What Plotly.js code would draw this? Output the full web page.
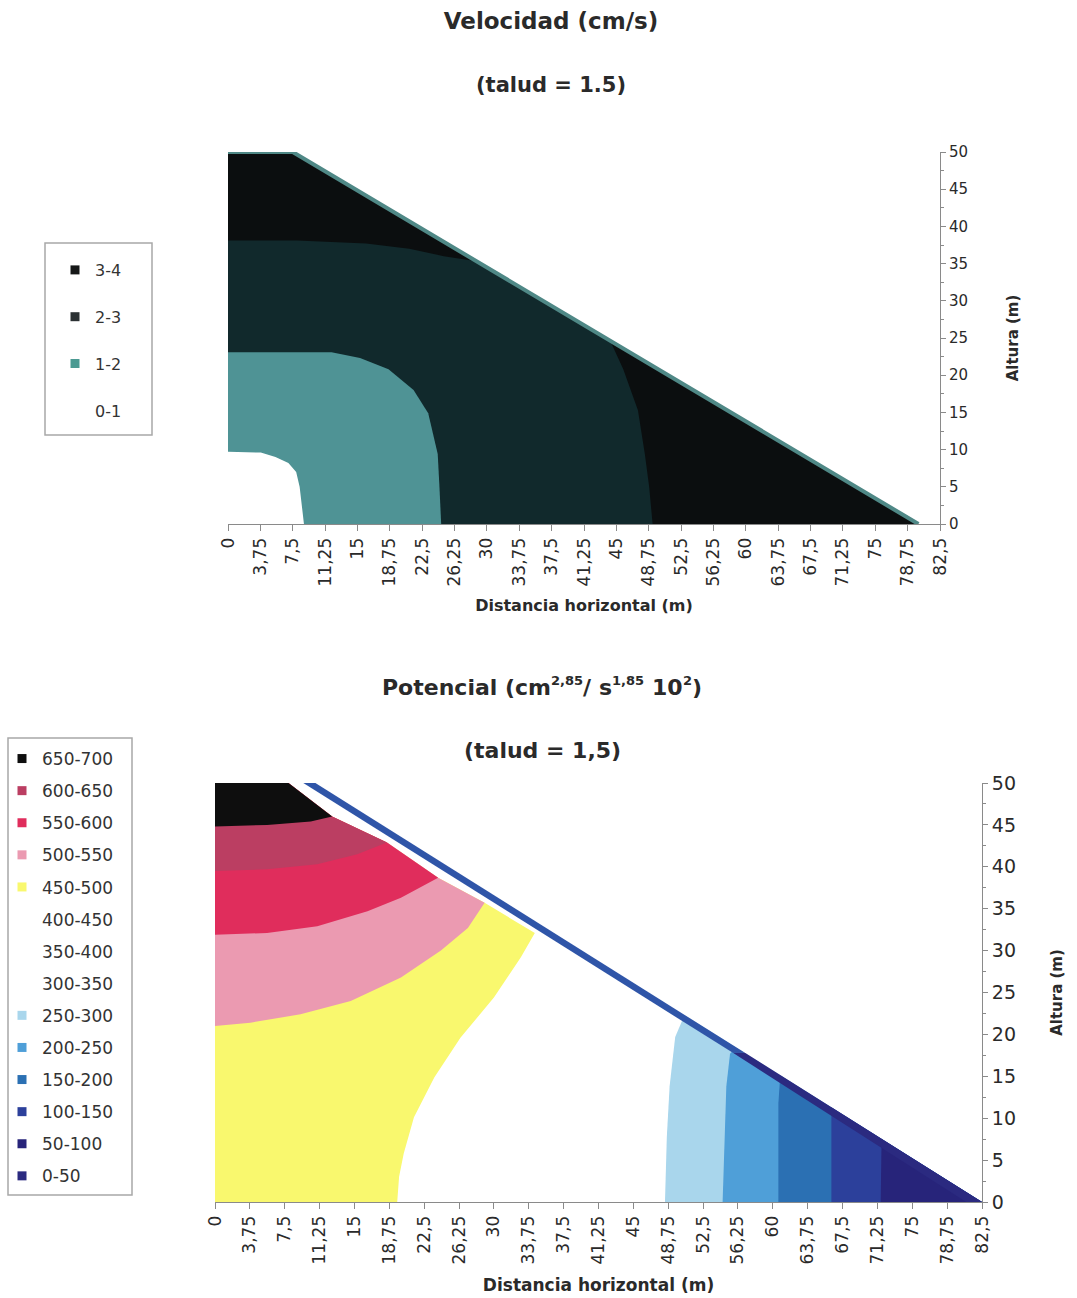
<!DOCTYPE html>
<html>
<head>
<meta charset="utf-8">
<script src="https://cdn.plot.ly/plotly-3.0.1.min.js"></script>
<style>
  html, body { margin: 0; padding: 0; background: #ffffff; }
  #chart { width: 1077px; height: 1298px; }
</style>
</head>
<body>
<div id="chart"></div>
<script>
// Shared horizontal ticks (metres) and their labels
const xTickVals = [0, 3.75, 7.5, 11.25, 15, 18.75, 22.5, 26.25, 30, 33.75, 37.5, 41.25, 45,
                   48.75, 52.5, 56.25, 60, 63.75, 67.5, 71.25, 75, 78.75, 82.5];
const xTickText = ['0', '3,75', '7,5', '11,25', '15', '18,75', '22,5', '26,25', '30', '33,75',
                   '37,5', '41,25', '45', '48,75', '52,5', '56,25', '60', '63,75', '67,5',
                   '71,25', '75', '78,75', '82,5'];
const yTickVals = [0, 5, 10, 15, 20, 25, 30, 35, 40, 45, 50];

// ---------- Velocidad (cm/s), talud = 1.5 ----------
const velLabels = ['3-4', '2-3', '1-2', '0-1'];
const velColors = ['#0b0e0f', '#11292c', '#4f9395', '#ffffff'];
const velLegendColors = ['#151818', '#2b3133', '#4b9a92', '#ffffff'];
// dam section outline (crest + downstream face)
const velSectionX = [0, 80, 7.5, 0];
const velSectionY = [0, 0, 50, 50];
const velFaceX = [0, 7.5, 80];
const velFaceY = [50, 50, 0];
// zone 2-3 (its outer contour runs along the face)
const vel23X = [0, 49.2, 48.8, 48.3, 47.5, 45.8, 44.3, 28.8, 25, 21, 16, 8, 0];
const vel23Y = [0, 0, 5, 9.4, 15.3, 20.8, 24.6, 35.3, 36.0, 37.0, 37.7, 38.1, 38.1];
// zone 1-2
const vel12X = [0, 24.7, 24.5, 24.3, 23.2, 21.5, 18.6, 15.3, 12, 0];
const vel12Y = [0, 0, 5, 9.4, 14.9, 18.0, 20.8, 22.3, 23.1, 23.1];
// zone 0-1
const vel01X = [0, 8.8, 8.6, 8.3, 7.9, 7.0, 5.5, 3.8, 0];
const vel01Y = [0, 0, 2, 5, 7, 8.2, 9.0, 9.6, 9.7];

// ---------- Potencial, talud = 1,5 ----------
const potLabels = ['650-700', '600-650', '550-600', '500-550', '450-500', '400-450', '350-400',
                   '300-350', '250-300', '200-250', '150-200', '100-150', '50-100', '0-50'];
const potColors = ['#0e0e0e', '#bb3e62', '#e02d5c', '#eb9ab1', '#f9f86e', '#ffffff', '#ffffff',
                   '#ffffff', '#a9d6ec', '#4f9fd8', '#2b70b3', '#2c409b', '#27247a', '#2b2a80'];
// inner face of the upstream zones (bottom to top)
const potFaceX = [34.4, 29.0, 24.0, 18.5, 12.6, 7.9];
const potFaceY = [32.1, 35.7, 38.7, 42.9, 46.0, 50];
// lower contour of each upstream zone, from the left edge to the face
const pot650X = [0, 5.6, 10.3, 12.6];
const pot650Y = [44.8, 45.0, 45.4, 46.0];
const pot600X = [0, 5.6, 11.0, 15.3, 18.5];
const pot600Y = [39.5, 39.7, 40.3, 41.5, 42.9];
const pot550X = [0, 5.6, 11.0, 16.4, 20.0, 24.0];
const pot550Y = [31.9, 32.1, 32.9, 34.7, 36.3, 38.7];
const pot500X = [0, 3.8, 9.2, 14.6, 20.0, 24.3, 27.2, 29.0];
const pot500Y = [21.0, 21.4, 22.4, 24.0, 26.8, 30.0, 32.7, 35.7];
const pot450X = [0, 19.6, 19.8, 20.3, 21.4, 23.6, 26.4, 30.0, 32.9, 34.4];
const pot450Y = [0, 0, 3.0, 5.8, 10.1, 14.9, 19.6, 24.4, 29.2, 32.1];
// left contour of each downstream zone (it closes at the toe, 82.5 m)
const pot250X = [48.4, 48.6, 48.9, 49.5, 50.5];
const pot250Y = [0, 7.8, 13.8, 19.7, 22.3];
const pot200X = [54.6, 55.0, 55.4, 56.0];
const pot200Y = [0, 13.8, 17.7, 18.4];
const pot150X = [60.6, 60.6, 60.8];
const pot150Y = [0, 11.8, 15.1];
const pot100X = [66.3, 66.3];
const pot100Y = [0, 11.3];
const pot50X = [71.6, 71.7];
const pot50Y = [0, 7.5];
// thin band along the downstream face
const potStripUpperX = [10.8, 57.0, 55.7, 9.5];
const potStripUpperY = [50, 17.8, 17.8, 50];
const potStripLowerX = [57.0, 82.5, 80.8, 55.7];
const potStripLowerY = [17.8, 0, 0, 17.8];
const potToe = [82.5, 0];

// ---------- helpers ----------
function zone(xs, ys, color, xa, ya) {
  return {
    type: 'scatter', mode: 'lines', x: xs, y: ys, fill: 'toself',
    fillcolor: color, line: { width: 0, color: color },
    hoverinfo: 'skip', showlegend: false, xaxis: xa, yaxis: ya
  };
}
// close an upstream zone: follow the face up to the crest, then back to the left edge
function upstreamZone(bx, by) {
  const xs = bx.slice(), ys = by.slice();
  const top = by[by.length - 1];
  for (let i = 0; i < potFaceX.length; i++) {
    if (potFaceY[i] > top) { xs.push(potFaceX[i]); ys.push(potFaceY[i]); }
  }
  xs.push(0); ys.push(50);
  return [xs, ys];
}
function downstreamZone(bx, by) {
  return [bx.concat([potToe[0]]), by.concat([potToe[1]])];
}
function legendEntry(name, color, legendId) {
  return {
    type: 'scatter', mode: 'markers', x: [null], y: [null], name: name,
    marker: { symbol: 'square', size: 9, color: color },
    legend: legendId, legendgroup: legendId + name, hoverinfo: 'skip',
    xaxis: legendId === 'legend' ? 'x' : 'x2', yaxis: legendId === 'legend' ? 'y' : 'y2'
  };
}

const traces = [];
// Velocidad zones, largest first
traces.push(zone(velSectionX, velSectionY, velColors[0], 'x', 'y'));
traces.push(zone(vel23X, vel23Y, velColors[1], 'x', 'y'));
traces.push(zone(vel12X, vel12Y, velColors[2], 'x', 'y'));
traces.push(zone(vel01X, vel01Y, velColors[3], 'x', 'y'));
traces.push({
  type: 'scatter', mode: 'lines', x: velFaceX, y: velFaceY,
  line: { color: '#4f8886', width: 4 }, hoverinfo: 'skip', showlegend: false,
  xaxis: 'x', yaxis: 'y'
});

// Potencial zones
const upstream = [[pot450X, pot450Y, 4], [pot500X, pot500Y, 3], [pot550X, pot550Y, 2],
                  [pot600X, pot600Y, 1], [pot650X, pot650Y, 0]];
upstream.forEach(([bx, by, k]) => {
  const [xs, ys] = upstreamZone(bx, by);
  traces.push(zone(xs, ys, potColors[k], 'x2', 'y2'));
});
const downstream = [[pot250X, pot250Y, 8], [pot200X, pot200Y, 9], [pot150X, pot150Y, 10],
                    [pot100X, pot100Y, 11], [pot50X, pot50Y, 12]];
downstream.forEach(([bx, by, k]) => {
  const [xs, ys] = downstreamZone(bx, by);
  traces.push(zone(xs, ys, potColors[k], 'x2', 'y2'));
});
traces.push(zone(potStripUpperX, potStripUpperY, '#2f55a8', 'x2', 'y2'));
traces.push(zone(potStripLowerX, potStripLowerY, potColors[13], 'x2', 'y2'));

// legend entries
velLabels.forEach((n, i) => traces.push(legendEntry(n, velLegendColors[i], 'legend')));
potLabels.forEach((n, i) => traces.push(legendEntry(n, potColors[i], 'legend2')));

// ---------- layout ----------
const W = 1077, H = 1298;
const fx = p => p / W;
const fy = p => 1 - p / H;
const axisColor = '#8a8a8a';
const TEXT = '#2a2a2a';
const FONT = 'DejaVu Sans, Verdana, sans-serif';

function xAxis(domain, tickSize, titleSize, standoff) {
  return {
    domain: domain, range: [0, 82.5], tickmode: 'array', tickvals: xTickVals, ticktext: xTickText,
    tickangle: -90, ticks: 'outside', ticklen: 6, tickcolor: axisColor, showline: true,
    linecolor: axisColor, showgrid: false, zeroline: false, fixedrange: true,
    tickfont: { size: tickSize, color: TEXT },
    title: { text: '<b>Distancia horizontal (m)</b>', font: { size: titleSize, color: TEXT }, standoff: standoff }
  };
}
function yAxis(domain, anchor, tickSize, titleSize, standoff) {
  return {
    domain: domain, range: [0, 50], anchor: anchor, side: 'right', tickmode: 'array',
    tickvals: yTickVals, ticks: 'outside', ticklen: 5, tickcolor: axisColor, showline: true,
    linecolor: axisColor, showgrid: false, zeroline: false, fixedrange: true,
    minor: { tickmode: 'linear', tick0: 0, dtick: 2.5, ticks: 'outside', ticklen: 3, tickcolor: axisColor },
    tickfont: { size: tickSize, color: TEXT },
    title: { text: '<b>Altura (m)</b>', font: { size: titleSize, color: TEXT }, standoff: standoff }
  };
}

// Second chart title with raised exponents, laid out piece by piece
const potTitleParts = [
  { t: 'Potencial (cm', sup: false }, { t: '2,85', sup: true }, { t: '/', sup: false },
  { t: ' ', space: true }, { t: 's', sup: false }, { t: '1,85', sup: true },
  { t: ' ', space: true }, { t: '10', sup: false }, { t: '2', sup: true }, { t: ')', sup: false }
];
const TITLE2_SIZE = 22, SUP_SIZE = 13;
const measureCtx = document.createElement('canvas').getContext('2d');
function textWidth(s, size) {
  measureCtx.font = 'bold ' + size + 'px "DejaVu Sans"';
  return measureCtx.measureText(s).width;
}
const partWidths = potTitleParts.map(p => textWidth(p.t, p.sup ? SUP_SIZE : TITLE2_SIZE));
const totalWidth = partWidths.reduce((a, b) => a + b, 0);
let cursor = 542 - totalWidth / 2;
const titleAnnotations = [];
potTitleParts.forEach((p, i) => {
  if (!p.space) {
    titleAnnotations.push({
      text: '<b>' + p.t + '</b>', x: fx(cursor), y: fy(p.sup ? 680 : 687),
      xref: 'paper', yref: 'paper', xanchor: 'left', yanchor: 'middle', showarrow: false,
      borderpad: 0, borderwidth: 0, font: { size: p.sup ? SUP_SIZE : TITLE2_SIZE, color: TEXT }
    });
  }
  cursor += partWidths[i];
});

const layout = {
  width: W, height: H, margin: { l: 0, r: 0, t: 0, b: 0 },
  paper_bgcolor: '#ffffff', plot_bgcolor: 'rgba(0,0,0,0)',
  font: { family: FONT, color: TEXT },
  title: {
    text: '<b>Velocidad (cm/s)</b>', x: fx(551), xanchor: 'center',
    y: fy(21), yanchor: 'middle', font: { size: 23, color: TEXT }
  },
  xaxis: Object.assign(xAxis([fx(228), fx(940)], 17, 16, 14), { anchor: 'y' }),
  yaxis: yAxis([fy(524), fy(152)], 'x', 15, 15, 40),
  xaxis2: Object.assign(xAxis([fx(215), fx(982)], 17, 17, 15), { anchor: 'y2' }),
  yaxis2: yAxis([fy(1202), fy(783)], 'x2', 19, 15, 36),
  showlegend: true,
  legend: {
    x: fx(55), xanchor: 'left', y: fy(253), yanchor: 'top',
    bgcolor: 'rgba(0,0,0,0)', borderwidth: 0, font: { size: 16, color: '#333333' },
    tracegroupgap: 23, itemclick: false, itemdoubleclick: false
  },
  legend2: {
    x: fx(2), xanchor: 'left', y: fy(741), yanchor: 'top',
    bgcolor: 'rgba(0,0,0,0)', borderwidth: 0, font: { size: 17, color: '#333333' },
    tracegroupgap: 7, itemclick: false, itemdoubleclick: false
  },
  annotations: [
    { text: '<b>(talud = 1.5)</b>', x: fx(551), y: fy(85), xref: 'paper', yref: 'paper',
      xanchor: 'center', yanchor: 'middle', showarrow: false, font: { size: 21, color: TEXT } },
    { text: '<b>(talud = 1,5)</b>', x: fx(542), y: fy(750), xref: 'paper', yref: 'paper',
      xanchor: 'center', yanchor: 'middle', showarrow: false, font: { size: 22, color: TEXT } }
  ].concat(titleAnnotations),
  shapes: [
    { type: 'rect', xref: 'paper', yref: 'paper', x0: fx(45), x1: fx(152), y0: fy(435), y1: fy(243),
      line: { color: '#a8a8a8', width: 1.5 }, fillcolor: 'rgba(0,0,0,0)' },
    { type: 'rect', xref: 'paper', yref: 'paper', x0: fx(8), x1: fx(132), y0: fy(1195), y1: fy(738),
      line: { color: '#a8a8a8', width: 1.5 }, fillcolor: 'rgba(0,0,0,0)' }
  ]
};

Plotly.newPlot('chart', traces, layout, { staticPlot: true, displayModeBar: false });
</script>
</body>
</html>
